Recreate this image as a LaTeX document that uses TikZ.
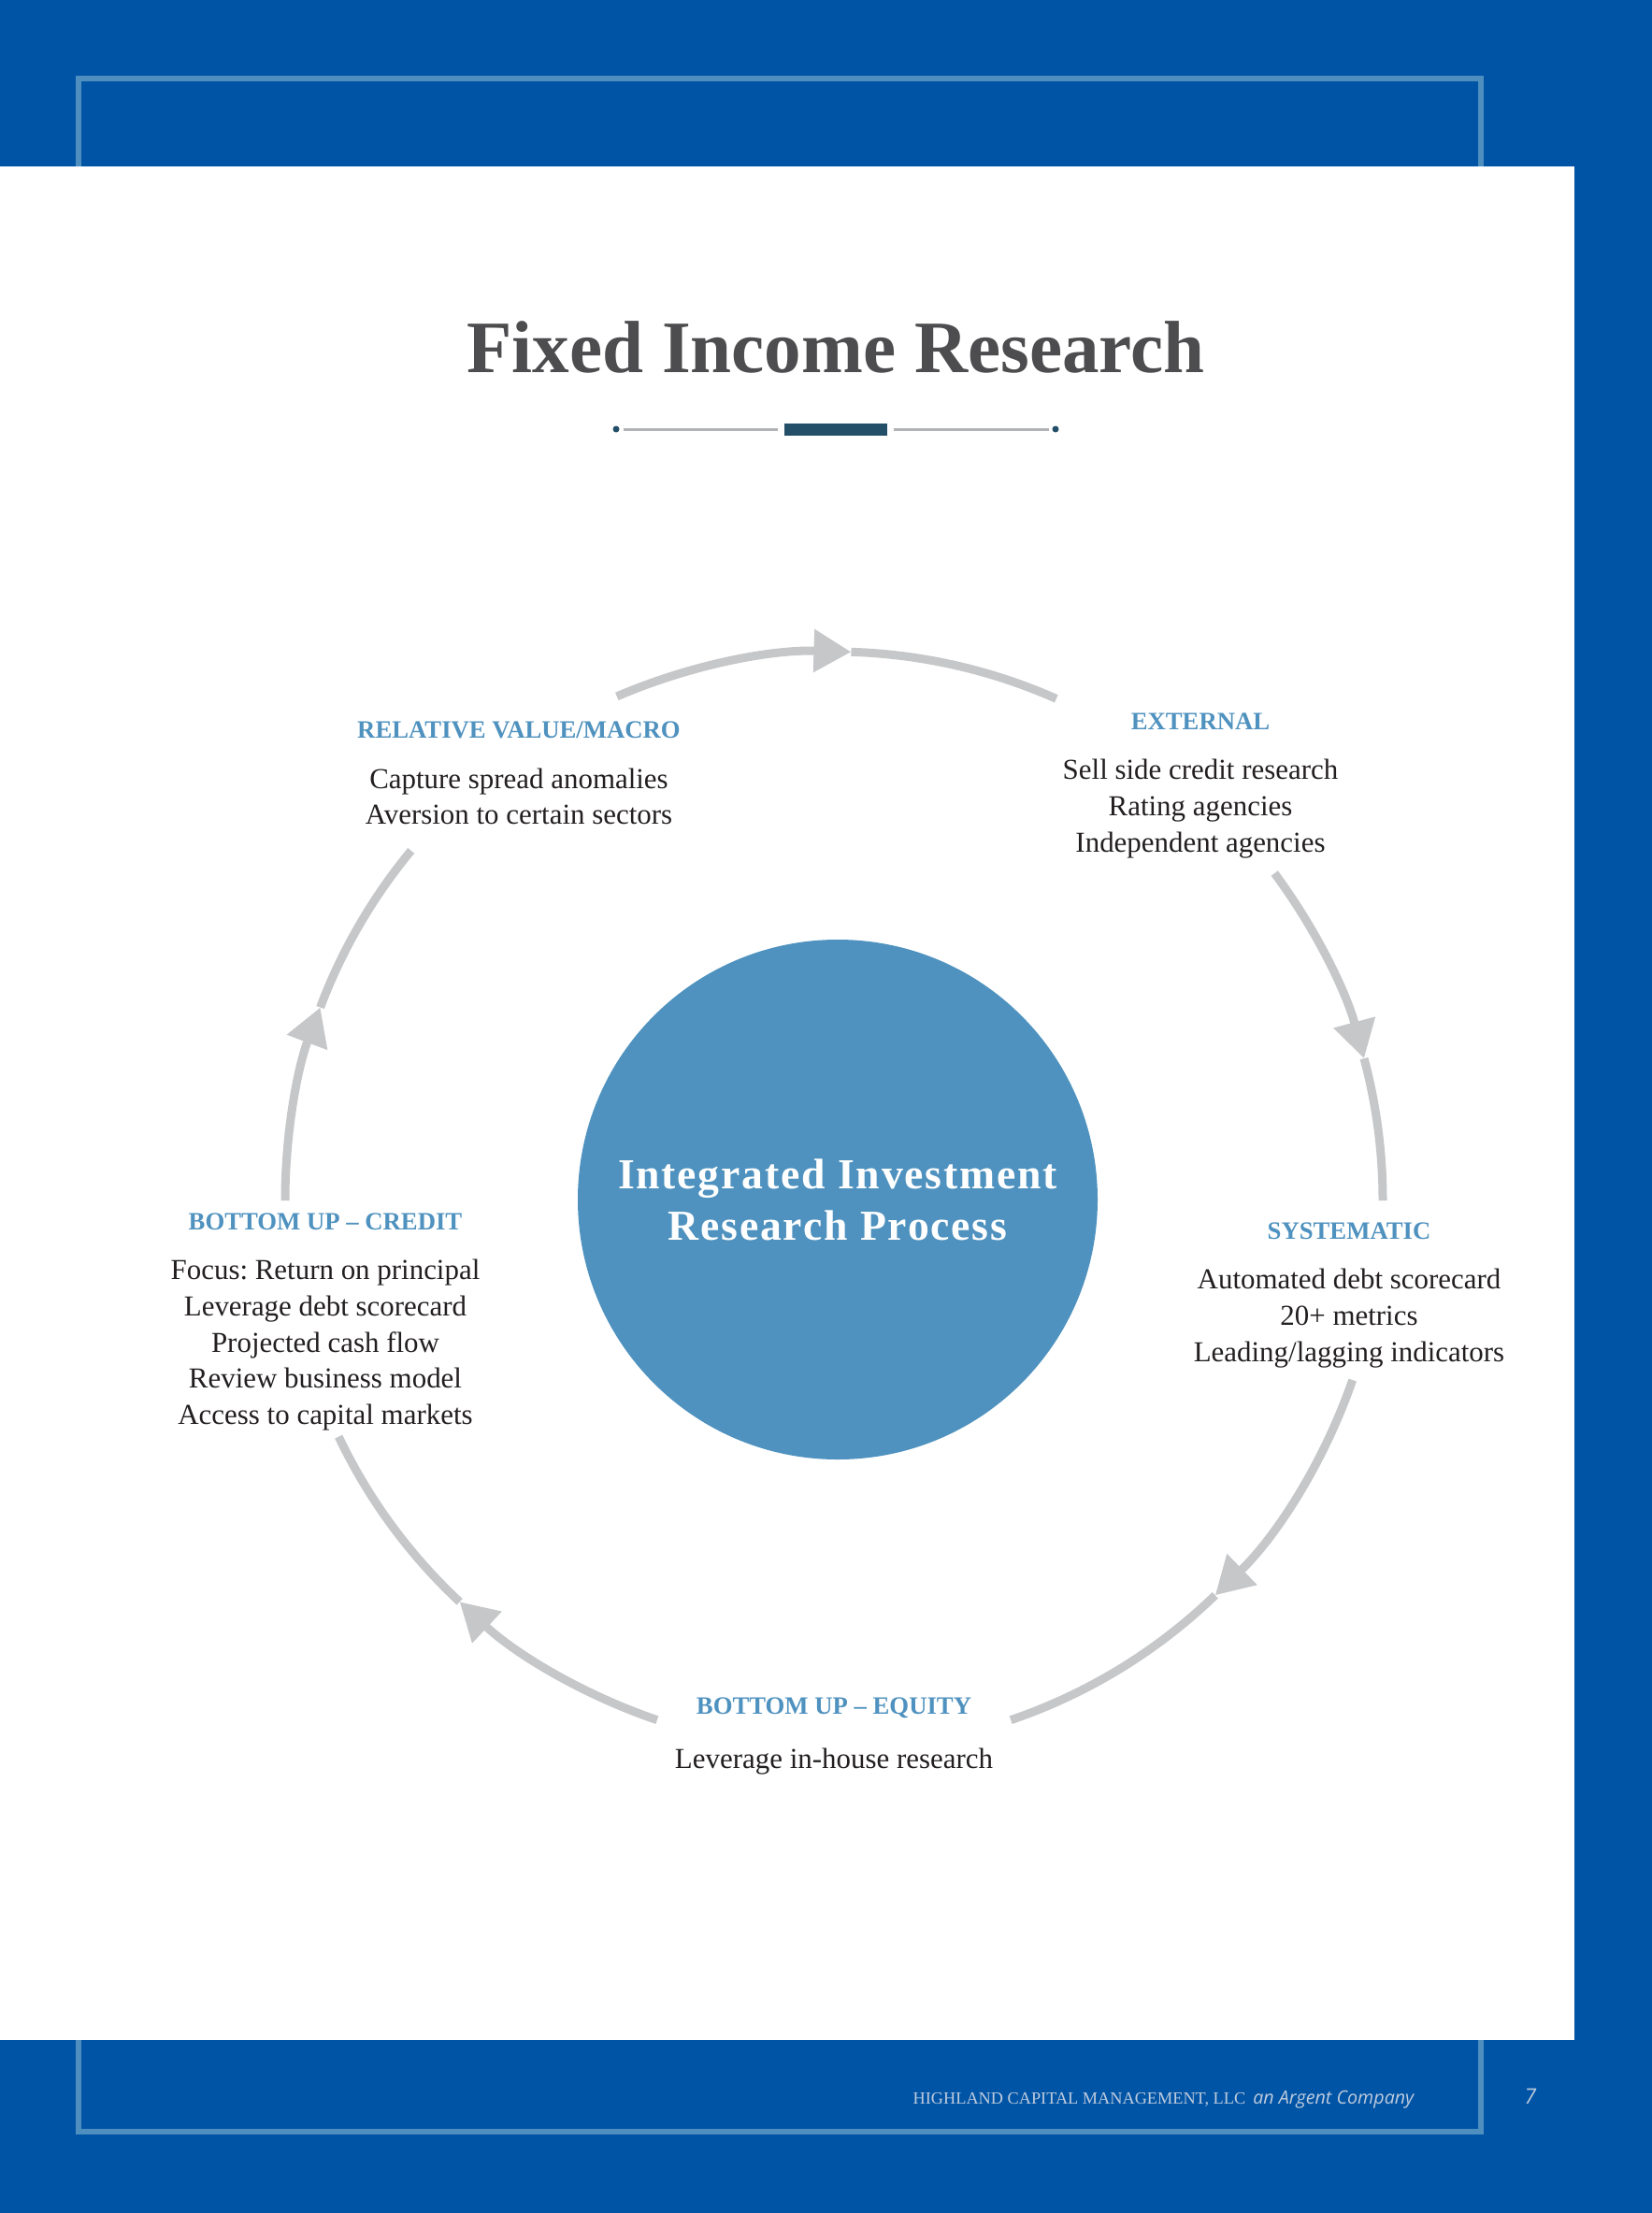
\documentclass[tikz,border=0pt]{standalone}
\usepackage{fontspec}
\setmainfont{Liberation Serif}
\newfontfamily\opensans{Open Sans}
\usetikzlibrary{arrows.meta, positioning, calc}
\definecolor{hcmblue}{HTML}{0054A6}
\definecolor{hcmframe}{HTML}{4F8FBF}
\definecolor{hcmsteel}{HTML}{4F92BF}
\definecolor{hcmgrey}{HTML}{C6C7C9}
\definecolor{hcmink}{HTML}{231F20}
\definecolor{hcmtitle}{HTML}{4D4D4F}
\definecolor{hcmnavy}{HTML}{234F68}
\definecolor{hcmrule}{HTML}{B1B3B6}
\definecolor{hcmfoot}{HTML}{BFCBDD}
\tikzset{
  >={Triangle[length=4mm, width=4.4mm]},
  ring/.style={line width=0.9mm, draw=hcmgrey},
  ringa/.style={ring, ->},
  hubdisc/.style={circle, fill=hcmsteel, minimum size=5.56cm, inner sep=0pt, align=center,
              text=white, font=\fontsize{13}{15.6}\selectfont\bfseries\addfontfeatures{LetterSpace=4}},
  head/.style={anchor=base, inner sep=0pt, text=hcmsteel, font=\fontsize{7.6}{9}\selectfont\bfseries},
  txt/.style={inner sep=0pt, align=center, text=hcmink, font=\fontsize{8.8}{11}\selectfont},
  foot/.style={anchor=base, inner sep=0pt, text=hcmfoot},
}
\newcommand{\ringR}{5.87}

\begin{document}
\frenchspacing
\begin{tikzpicture}
      % page and frames
      \fill[hcmblue] (0,0) rectangle (17.67,-23.67);
      \useasboundingbox (0,0) rectangle (17.67,-23.67);
      \draw[hcmframe, line width=0.65mm] (0.84,-0.84) rectangle (15.84,-22.80);
      \fill[white] (0,-1.78) rectangle (16.84,-21.82);
      % title
      \node[anchor=base, text=hcmtitle, font=\fontsize{22.5}{27}\selectfont\bfseries] (title) at (8.94,-3.98) {Fixed Income Research};
      \fill[hcmnavy] (8.39,-4.53) rectangle (9.49,-4.66);
      \draw[hcmrule, line width=0.3mm] (6.67,-4.59) -- (8.32,-4.59) (9.56,-4.59) -- (11.22,-4.59);
      \fill[hcmnavy] (6.59,-4.59) circle (0.35mm) (11.29,-4.59) circle (0.35mm);
      % hub and ring
      \node[hubdisc] (hub) at (8.96,-12.83) {Integrated Investment\\Research Process};
      \coordinate (loop) at (8.92,-12.84);
      \draw[ringa] ($(loop)+(113.3:\ringR)$) arc[start angle=113.3, end angle=88.2, radius=\ringR];
      \draw[ring] ($(loop)+(88.2:\ringR)$) arc[start angle=88.2, end angle=66.1, radius=\ringR];
      \draw[ringa] ($(loop)+(36.6:\ringR)$) arc[start angle=36.6, end angle=15, radius=\ringR];
      \draw[ring] ($(loop)+(15:\ringR)$) arc[start angle=15, end angle=0, radius=\ringR];
      \draw[ringa] ($(loop)+(-19.1:\ringR)$) arc[start angle=-19.1, end angle=-46, radius=\ringR];
      \draw[ring] ($(loop)+(-46:\ringR)$) arc[start angle=-46, end angle=-71.2, radius=\ringR];
      \draw[ringa] ($(loop)+(251.2:\ringR)$) arc[start angle=251.2, end angle=227, radius=\ringR];
      \draw[ring] ($(loop)+(227:\ringR)$) arc[start angle=227, end angle=205.5, radius=\ringR];
      \draw[ringa] ($(loop)+(180:\ringR)$) arc[start angle=180, end angle=159.4, radius=\ringR];
      \draw[ring] ($(loop)+(159.4:\ringR)$) arc[start angle=159.4, end angle=140.4, radius=\ringR];
      % stages
      \node[head] (rvhead) at (5.55,-7.89) {RELATIVE VALUE/MACRO};
      \node[txt, below=3.08mm of rvhead] (rvtext) {Capture spread anomalies\\Aversion to certain sectors};
      \node[head] (exthead) at (12.84,-7.80) {EXTERNAL};
      \node[txt, below=3.08mm of exthead] (exttext) {Sell side credit research\\Rating agencies\\Independent agencies};
      \node[head] (syshead) at (14.43,-13.25) {SYSTEMATIC};
      \node[txt, below=3.08mm of syshead] (systext) {Automated debt scorecard\\20+ metrics\\Leading/lagging indicators};
      \node[head] (eqhead) at (8.92,-18.33) {BOTTOM UP – EQUITY};
      \node[txt, below=3.08mm of eqhead] (eqtext) {Leverage in-house research};
      \node[head] (crhead) at (3.48,-13.15) {BOTTOM UP – CREDIT};
      \node[txt, below=3.08mm of crhead] (crtext) {Focus: Return on principal\\Leverage debt scorecard\\Projected cash flow\\Review business model\\Access to capital markets};
      % footer
      \node[foot, anchor=base east, font=\fontsize{5.2}{6}\selectfont] (firm) at (15.13,-22.50)
        {HIGHLAND CAPITAL MANAGEMENT, LLC\hspace{0.8mm}{\opensans\itshape\fontsize{5.6}{6}\selectfont an Argent Company}};
      \node[foot, font=\opensans\itshape\fontsize{6.5}{8}\selectfont] (pageno) at (16.37,-22.50) {7};
    \end{tikzpicture}
\end{document}
